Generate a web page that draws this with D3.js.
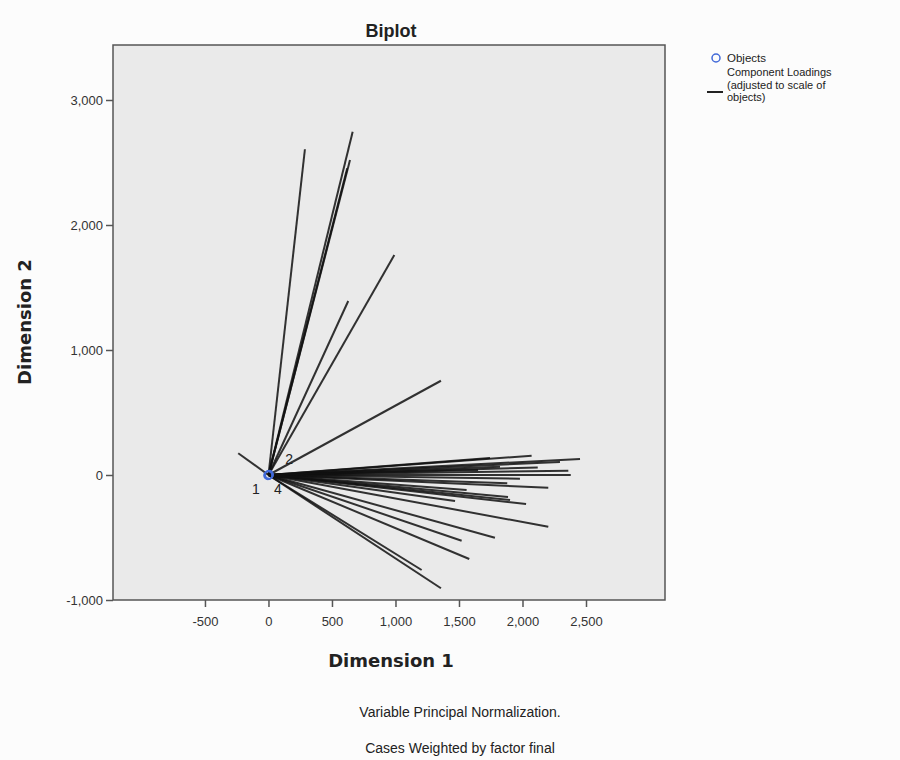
<!DOCTYPE html>
<html>
<head>
<meta charset="utf-8">
<script src="https://cdn.jsdelivr.net/npm/d3@7"></script>
<style>
  body { margin: 0; background: #fcfcfc; font-family: "Liberation Sans", Arial, sans-serif; }
  svg text { fill: #222; }
</style>
</head>
<body>
<script>
// component loadings, end points of each vector (dimension 1, dimension 2)
var loadX = [287, 663, 620, 642, 628, 991, 1358, -238,
             2072, 2453, 2361, 2380, 2203, 1880, 2028, 1902, 1469, 2203,
             1783, 1521, 1581, 1206, 1358, 1823, 1744, 1886, 2295,
             1650, 1980, 1560, 2120];
var loadY = [2606, 2746, 2454, 2520, 1392, 1760, 754, 174,
             154, 128, 34, 0, -102, -66, -232, -200, -208, -414,
             -502, -526, -672, -760, -906, 66, 136, -176, 104,
             40, -30, -120, 60];

// object scores
var objLabels = ['1', '2', '3', '4'];
var objX = [-4, 6, 0, 3];
var objY = [-3, 4, 0, -2];

var xTicks = [-500, 0, 500, 1000, 1500, 2000, 2500];
var yTicks = [-1000, 0, 1000, 2000, 3000];

var width = 900, height = 760;
var plotL = 113, plotR = 665, plotT = 45, plotB = 600;

var svg = d3.select('body').append('svg')
  .attr('width', width)
  .attr('height', height);

var x = d3.scaleLinear().domain([-1224, 3122]).range([plotL, plotR]);
var y = d3.scaleLinear().domain([-1000, 3440]).range([plotB, plotT]);

var fmt = d3.formatLocale({decimal: '.', thousands: ',', grouping: [3], currency: ['', ''], minus: '-'}).format(',');

// plot background
svg.append('rect')
  .attr('x', plotL).attr('y', plotT)
  .attr('width', plotR - plotL).attr('height', plotB - plotT)
  .attr('fill', '#eaeaea');

// loadings
svg.append('g').selectAll('line')
  .data(loadX)
  .enter().append('line')
  .attr('x1', x(0)).attr('y1', y(0))
  .attr('x2', function(d) { return x(d); })
  .attr('y2', function(d, i) { return y(loadY[i]); })
  .attr('stroke', '#111')
  .attr('stroke-width', 2)
  .attr('stroke-opacity', 0.85);

// objects
svg.append('g').selectAll('circle')
  .data(objX)
  .enter().append('circle')
  .attr('cx', function(d) { return x(d); })
  .attr('cy', function(d, i) { return y(objY[i]); })
  .attr('r', 4)
  .attr('fill', 'none')
  .attr('stroke', '#4169d8')
  .attr('stroke-width', 1.5);

// label offsets (px) for each object
var labOff = [[-12, 19], [20, -11], [0, 0], [9, 19]];
svg.append('g').selectAll('text')
  .data(objLabels)
  .enter().append('text')
  .attr('x', function(d, i) { return x(objX[i]) + labOff[i][0]; })
  .attr('y', function(d, i) { return y(objY[i]) + labOff[i][1]; })
  .attr('text-anchor', 'middle')
  .attr('font-size', 14)
  .attr('opacity', function(d, i) { return i == 2 ? 0 : 1; })
  .text(function(d) { return d; });

// frame
svg.append('rect')
  .attr('x', plotL).attr('y', plotT)
  .attr('width', plotR - plotL).attr('height', plotB - plotT)
  .attr('fill', 'none')
  .attr('stroke', '#555')
  .attr('stroke-width', 1.5);

// axes
var xAxis = svg.append('g')
  .attr('transform', 'translate(0,' + plotB + ')')
  .call(d3.axisBottom(x).tickValues(xTicks).tickFormat(fmt).tickSize(7).tickSizeOuter(0));
var yAxis = svg.append('g')
  .attr('transform', 'translate(' + plotL + ',0)')
  .call(d3.axisLeft(y).tickValues(yTicks).tickFormat(fmt).tickSize(7).tickSizeOuter(0));
[xAxis, yAxis].forEach(function(a) {
  a.select('.domain').remove();
  a.selectAll('line').attr('stroke', '#555').attr('stroke-width', 1.5);
  a.selectAll('text').attr('font-size', 13).attr('font-family', '"Liberation Sans", Arial, sans-serif').style('fill', '#333');
});
xAxis.selectAll('text').attr('dy', '1.2em');

// titles
svg.append('text')
  .attr('x', 391).attr('y', 37)
  .attr('text-anchor', 'middle')
  .attr('font-size', 18).attr('font-weight', 'bold')
  .text('Biplot');

svg.append('text')
  .attr('x', 391).attr('y', 667)
  .attr('text-anchor', 'middle')
  .attr('font-size', 18).attr('font-weight', 'bold')
  .attr('font-family', '"DejaVu Sans", sans-serif')
  .text('Dimension 1');

svg.append('text')
  .attr('transform', 'translate(31,322) rotate(-90)')
  .attr('text-anchor', 'middle')
  .attr('font-size', 18).attr('font-weight', 'bold')
  .attr('font-family', '"DejaVu Sans", sans-serif')
  .text('Dimension 2');

svg.append('text')
  .attr('x', 460).attr('y', 717)
  .attr('text-anchor', 'middle')
  .attr('font-size', 14)
  .text('Variable Principal Normalization.');

svg.append('text')
  .attr('x', 460).attr('y', 753)
  .attr('text-anchor', 'middle')
  .attr('font-size', 14)
  .text('Cases Weighted by factor final');

// legend
var legend = svg.append('g').attr('transform', 'translate(705,50)');
legend.append('circle')
  .attr('cx', 11).attr('cy', 8).attr('r', 4)
  .attr('fill', 'none').attr('stroke', '#4169d8').attr('stroke-width', 1.5);
legend.append('text').attr('x', 22).attr('y', 12).attr('font-size', 11.5).text('Objects');
legend.append('line')
  .attr('x1', 2).attr('x2', 18).attr('y1', 42).attr('y2', 42)
  .attr('stroke', '#222').attr('stroke-width', 2);
['Component Loadings', '(adjusted to scale of', 'objects)'].forEach(function(t, i) {
  legend.append('text').attr('x', 22).attr('y', 26 + i * 12.5).attr('font-size', 11).text(t);
});
</script>
</body>
</html>
